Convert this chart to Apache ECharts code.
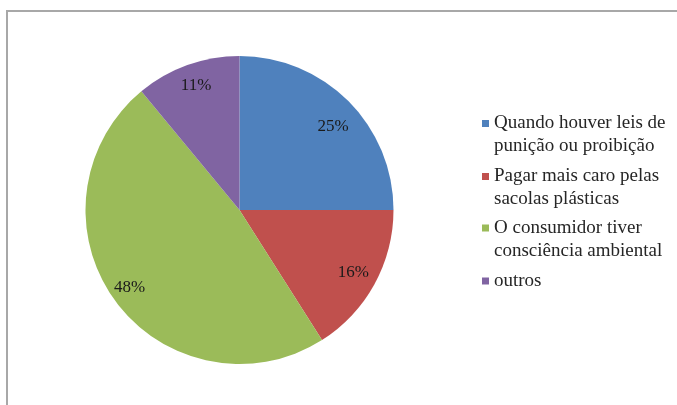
<!DOCTYPE html>
<html>
<head>
<meta charset="utf-8">
<script src="https://cdn.jsdelivr.net/npm/echarts@6/dist/echarts.min.js"></script>
<style>
  html, body { margin: 0; padding: 0; background: #ffffff; }
  #chart { width: 677px; height: 405px; }
</style>
</head>
<body>
<div id="chart"></div>
<script>
// Survey answers: when would people stop using plastic bags
const categories = [
  'Quando houver leis de\npunição ou proibição',
  'Pagar mais caro pelas\nsacolas plásticas',
  'O consumidor tiver\nconsciência ambiental',
  'outros'
];
const shares = [25, 16, 48, 11];
const colors = ['#4F81BD', '#C0504D', '#9BBB59', '#8064A2'];

// small nudges for the percentage labels (best-fit placement)
const labelNudge = [[1, 9], [-1, -1], [-4, 1], [1, -1]];

const FONT = '"Liberation Serif", "Times New Roman", serif';
const LINE = 23;
const center = [239.5, 210];
const R = 154;

const pieData = categories.map((name, i) => ({ name, value: shares[i] }));
const labelData = categories.map((name, i) => ({
  name,
  value: shares[i],
  label: { offset: labelNudge[i] }
}));

// One legend block per answer; a blank leading line keeps the swatch on the first text line
const firstLineY = [123.5, 176.5, 228, 281];
const legends = categories.map((name, i) => {
  const twoLine = name.indexOf('\n') >= 0;
  return {
    data: [{ name, icon: 'rect' }],
    formatter: n => (n.indexOf('\n') >= 0 ? ' \n' + n : n),
    orient: 'vertical',
    left: 482,
    top: twoLine ? firstLineY[i] - 1.5 * LINE : firstLineY[i] - LINE / 2,
    padding: 0,
    itemWidth: 7,
    itemHeight: 7,
    selectedMode: false,
    textStyle: {
      fontFamily: FONT,
      fontSize: 19,
      lineHeight: LINE,
      color: '#262626'
    }
  };
});

const chart = echarts.init(document.getElementById('chart'), null, { renderer: 'canvas' });
chart.setOption({
  backgroundColor: '#ffffff',
  animation: false,
  color: colors,
  legend: legends,
  graphic: [{
    type: 'rect',
    shape: { x: 7, y: 11, width: 720, height: 440 },
    style: { fill: 'none', stroke: '#a8a8a8', lineWidth: 2 },
    silent: true,
    z: -1
  }],
  series: [
    {
      type: 'pie',
      center,
      radius: [0, R],
      startAngle: 90,
      clockwise: true,
      data: pieData,
      label: { show: false },
      labelLine: { show: false },
      emphasis: { disabled: true },
      itemStyle: { borderWidth: 0 }
    },
    {
      // transparent ring that only carries the percentage labels
      type: 'pie',
      center,
      radius: [102, R],
      startAngle: 90,
      clockwise: true,
      data: labelData,
      silent: true,
      legendHoverLink: false,
      itemStyle: { color: 'rgba(0,0,0,0)', borderWidth: 0 },
      emphasis: { disabled: true },
      label: {
        show: true,
        position: 'inside',
        formatter: p => p.value + '%',
        fontFamily: FONT,
        fontSize: 17,
        color: '#1a1a1a'
      },
      labelLine: { show: false }
    }
  ]
});
</script>
</body>
</html>
